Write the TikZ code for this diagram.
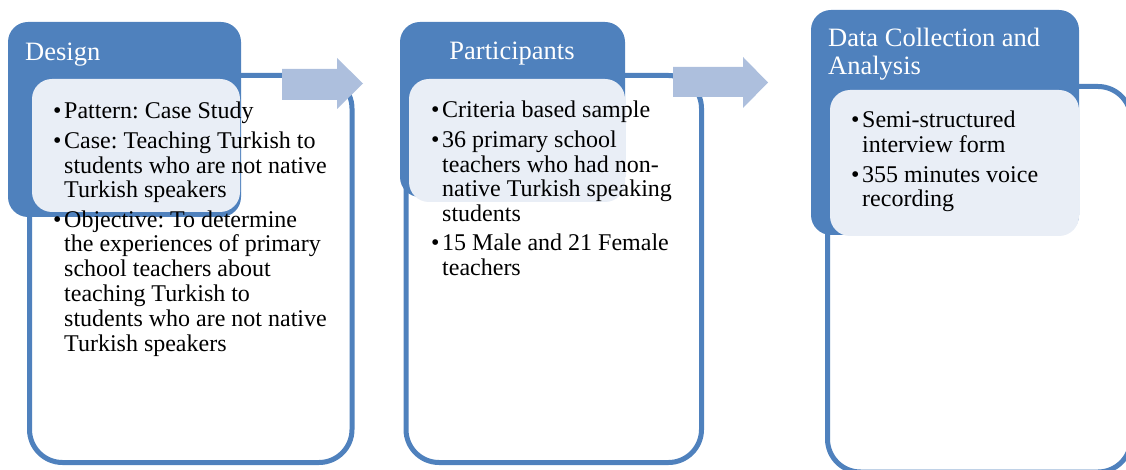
\documentclass[tikz,border=0pt]{standalone}
\usepackage{fontspec}
\setmainfont{Liberation Serif}
\frenchspacing
\definecolor{accent}{HTML}{4F81BD}
\definecolor{lightbox}{HTML}{E9EEF6}
\definecolor{arrowfill}{HTML}{ADBFDD}
\newcommand{\bul}{\makebox[11pt][l]{•}}
\newcommand{\gp}{\\[4.5pt]}
\begin{document}
\begin{tikzpicture}[x=1pt,y=-1pt,
  outlinebox/.style={draw=accent, line width=5pt, fill=white, rounded corners=33pt},
  headerbox/.style={fill=accent, rounded corners=20pt},
  textbox/.style={fill=lightbox, rounded corners=20pt},
  blockarrow/.style={fill=arrowfill},
  headtext/.style={text=white, font=\fontsize{26.5}{28}\selectfont\frenchspacing, inner sep=0pt},
  bodytext/.style={text=black, font=\fontsize{24}{24.8}\selectfont\frenchspacing, inner sep=0pt},
]
\useasboundingbox (0,0) rectangle (1126,470);
\clip (0,0) rectangle (1126,470);

% Column 1
\draw[outlinebox] (29.5,75.5) rectangle (352,462.5);
\fill[headerbox] (8,22) rectangle (241,217);
\fill[textbox] (32,79) rectangle (240,212);
\fill[blockarrow] (282,69) -- (337,69) -- (337,58) -- (363,83.5) -- (337,109) -- (337,100) -- (282,100) -- cycle;

% Column 2
\draw[outlinebox] (406,75.5) rectangle (701.5,462.5);
\fill[headerbox] (400,22) rectangle (625,197);
\fill[textbox] (409,79) rectangle (625,202);
\fill[blockarrow] (673,67) -- (743,67) -- (743,57) -- (768,82.5) -- (743,108) -- (743,97) -- (673,97) -- cycle;

% Column 3
\draw[outlinebox] (827.5,86.5) rectangle (1131,472);
\fill[headerbox] (811,10) rectangle (1079,235);
\fill[textbox] (830,90) rectangle (1079,236);

% Header texts
\node[headtext, anchor=base west] (h1) at (25,61) {Design};
\node[headtext, anchor=base] (h2) at (512,60) {Participants};
\node[headtext, anchor=base west] (h3) at (828,47) {\begin{tabular}[t]{@{}l@{}}Data Collection and\\Analysis\end{tabular}};

% Body texts
\node[bodytext, anchor=base west] (b1) at (53,119) {\begin{tabular}[t]{@{}l@{}l@{}}
\bul & Pattern: Case Study\gp
\bul & Case: Teaching Turkish to\\
 & students who are not native\\
 & Turkish speakers\gp
\bul & Objective: To determine\\
 & the experiences of primary\\
 & school teachers about\\
 & teaching Turkish to\\
 & students who are not native\\
 & Turkish speakers
\end{tabular}};

\node[bodytext, anchor=base west] (b2) at (431,118) {\begin{tabular}[t]{@{}l@{}l@{}}
\bul & Criteria based sample\gp
\bul & 36 primary school\\
 & teachers who had non-\\
 & native Turkish speaking\\
 & students\gp
\bul & 15 Male and 21 Female\\
 & teachers
\end{tabular}};

\node[bodytext, anchor=base west] (b3) at (851,128) {\begin{tabular}[t]{@{}l@{}l@{}}
\bul & Semi-structured\\
 & interview form\gp
\bul & 355 minutes voice\\
 & recording
\end{tabular}};
\end{tikzpicture}
\end{document}
